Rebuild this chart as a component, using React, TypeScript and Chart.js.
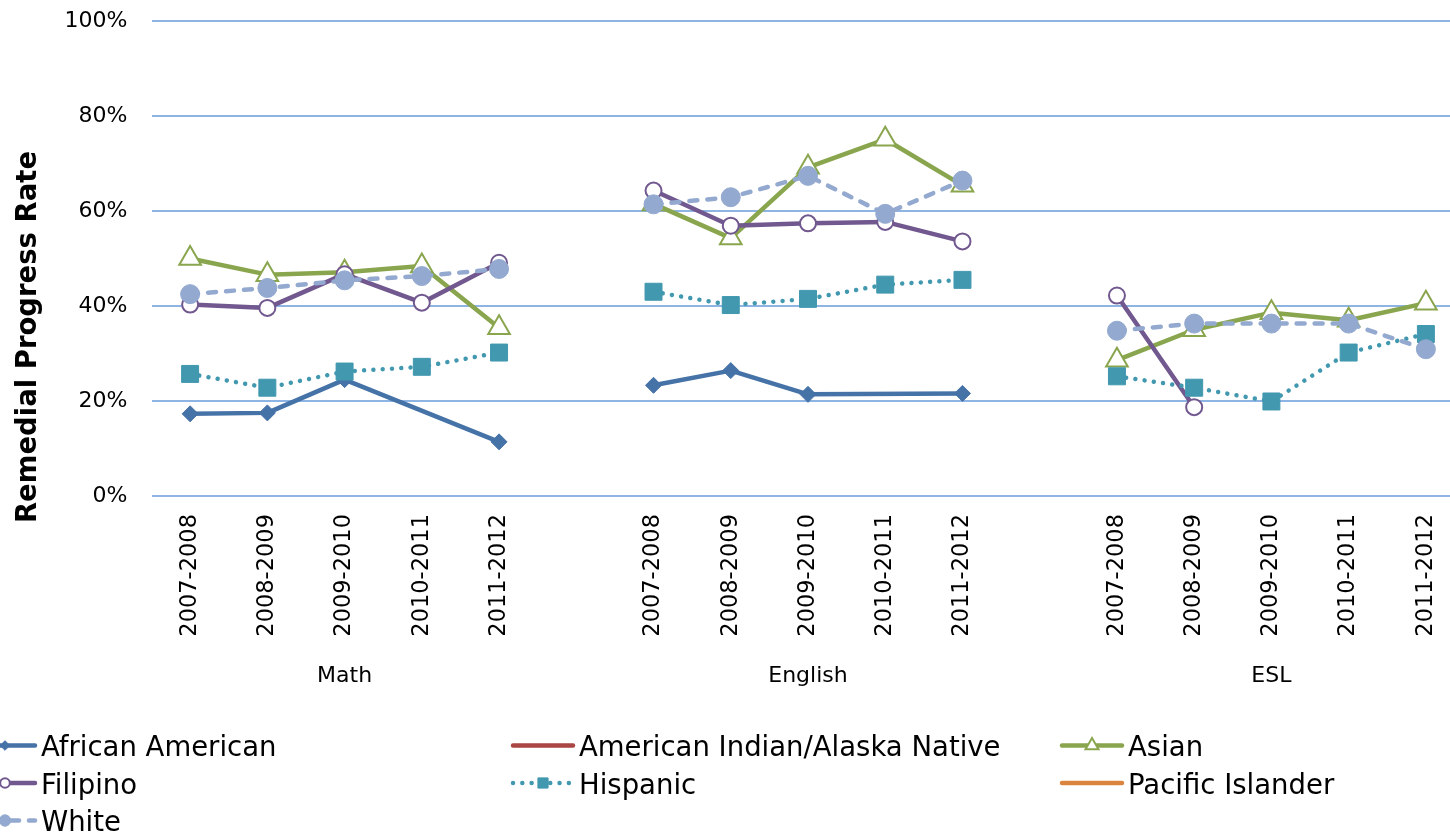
import React, { useEffect, useRef } from "react";
import { Chart, registerables } from "chart.js";

Chart.register(...registerables);

const FONT = '"DejaVu Sans", Verdana, sans-serif';

// ---- data ----
const years = ["2007-2008", "2008-2009", "2009-2010", "2010-2011", "2011-2012"];
const categories = [...years, "", ...years, "", ...years];
const groupLabels = ["Math", "English", "ESL"];
const groupCenterIndex = [2, 8, 14];
const yTickStep = 20;
const yAxisTitle = "Remedial Progress Rate";

const africanAmerican = [17.3, 17.5, 24.5, null, 11.4, null, 23.3, 26.4, 21.4, null, 21.6, null, null, null, null, null, null];
const americanIndian = [null, null, null, null, null, null, null, null, null, null, null, null, null, null, null, null, null];
const asian = [50.0, 46.6, 47.1, 48.4, 35.4, null, 61.5, 54.3, 69.2, 75.1, 65.4, null, 28.6, 35.0, 38.6, 37.0, 40.6];
const filipino = [40.3, 39.6, 46.7, 40.7, 49.1, null, 64.3, 56.9, 57.4, 57.7, 53.6, null, 42.2, 18.7, null, null, null];
const hispanic = [25.7, 22.8, 26.2, 27.2, 30.2, null, 43.0, 40.2, 41.5, 44.5, 45.5, null, 25.2, 22.8, 19.9, 30.2, 34.1];
const pacificIslander = [null, null, null, null, null, null, null, null, null, null, null, null, null, null, null, null, null];
const white = [42.5, 43.8, 45.4, 46.3, 47.8, null, 61.4, 62.9, 67.4, 59.4, 66.4, null, 34.8, 36.3, 36.3, 36.3, 30.9];

const seriesNames = [
  "African American",
  "American Indian/Alaska Native",
  "Asian",
  "Filipino",
  "Hispanic",
  "Pacific Islander",
  "White",
];
const seriesValues = [africanAmerican, americanIndian, asian, filipino, hispanic, pacificIslander, white];

// ---- styles ----
type Style = {
  color: string;
  shape: string | false;
  radius: number;
  fill: string;
  pbw: number;
  dash: number[];
  cap: CanvasLineCap;
};
const styles: Style[] = [
  { color: "#4572A7", shape: "rectRot", radius: 8, fill: "#4572A7", pbw: 1, dash: [], cap: "round" },
  { color: "#AA4643", shape: false, radius: 0, fill: "#AA4643", pbw: 1, dash: [], cap: "round" },
  { color: "#89A54E", shape: "triangle", radius: 12.5, fill: "#FFFFFF", pbw: 2, dash: [], cap: "round" },
  { color: "#71588F", shape: "circle", radius: 8, fill: "#FFFFFF", pbw: 2, dash: [], cap: "round" },
  { color: "#4198AF", shape: "rect", radius: 12, fill: "#4198AF", pbw: 1, dash: [0.01, 9.3], cap: "round" },
  { color: "#DB843D", shape: false, radius: 0, fill: "#DB843D", pbw: 1, dash: [], cap: "round" },
  { color: "#93A9CF", shape: "circle", radius: 9.5, fill: "#93A9CF", pbw: 1, dash: [8, 10], cap: "round" },
];

// legend layout (column text x, row baselines)
const legendCols = [41, 579, 1128];
const legendRows = [756, 793.5, 831];

const groupOf = (i: number) => Math.floor(i / 6);

function drawMarker(ctx: CanvasRenderingContext2D, st: Style, x: number, y: number, scale: number) {
  if (!st.shape) return;
  const r = st.radius * scale;
  ctx.save();
  ctx.setLineDash([]);
  ctx.lineWidth = st.pbw;
  ctx.strokeStyle = st.color;
  ctx.fillStyle = st.fill;
  ctx.beginPath();
  if (st.shape === "rectRot") {
    ctx.moveTo(x - r, y);
    ctx.lineTo(x, y - r);
    ctx.lineTo(x + r, y);
    ctx.lineTo(x, y + r);
    ctx.closePath();
  } else if (st.shape === "triangle") {
    for (let k = 0; k < 3; k++) {
      const a = (k * 2 * Math.PI) / 3;
      const px = x + Math.sin(a) * r;
      const py = y - Math.cos(a) * r;
      if (k === 0) ctx.moveTo(px, py);
      else ctx.lineTo(px, py);
    }
    ctx.closePath();
  } else if (st.shape === "circle") {
    ctx.arc(x, y, r, 0, Math.PI * 2);
  } else if (st.shape === "rect") {
    const s = r * Math.SQRT1_2;
    ctx.rect(x - s, y - s, 2 * s, 2 * s);
  }
  ctx.fill();
  ctx.stroke();
  ctx.restore();
}

const extrasPlugin = {
  id: "extras",
  afterDraw(chart: any) {
    const ctx: CanvasRenderingContext2D = chart.ctx;
    const xScale = chart.scales.x;
    ctx.save();
    // group labels
    ctx.fillStyle = "#000";
    ctx.font = `22px ${FONT}`;
    ctx.textAlign = "center";
    ctx.textBaseline = "alphabetic";
    groupLabels.forEach((g, i) => {
      ctx.fillText(g, xScale.getPixelForTick(groupCenterIndex[i]), 682);
    });
    // y title
    ctx.save();
    ctx.translate(36, 337);
    ctx.rotate(-Math.PI / 2);
    ctx.font = `bold 27.5px ${FONT}`;
    ctx.textAlign = "center";
    ctx.fillText(yAxisTitle, 0, 0);
    ctx.restore();
    // legend
    ctx.font = `27.5px ${FONT}`;
    ctx.textAlign = "left";
    seriesNames.forEach((name, i) => {
      const col = i % 3;
      const row = Math.floor(i / 3);
      const tx = legendCols[col];
      const base = legendRows[row];
      const my = base - 10.5;
      const st = styles[i];
      ctx.save();
      ctx.strokeStyle = st.color;
      ctx.lineWidth = 4.5;
      ctx.lineCap = st.cap;
      ctx.setLineDash(st.dash);
      ctx.beginPath();
      ctx.moveTo(tx - 66, my);
      ctx.lineTo(tx - 6, my);
      ctx.stroke();
      ctx.restore();
      drawMarker(ctx, st, tx - 36, my, 0.6);
      ctx.fillStyle = "#000";
      ctx.fillText(name, tx, base);
    });
    ctx.restore();
  },
};

export default function App() {
  const ref = useRef<HTMLCanvasElement>(null);
  useEffect(() => {
    const datasets = seriesNames.map((name, i) => {
      const st = styles[i];
      return {
        label: name,
        data: seriesValues[i],
        borderColor: st.color,
        backgroundColor: st.color,
        borderWidth: 4.5,
        borderDash: st.dash,
        borderCapStyle: st.cap,
        borderJoinStyle: "round" as CanvasLineJoin,
        pointStyle: st.shape,
        pointRadius: st.shape ? st.radius : 0,
        pointHoverRadius: st.shape ? st.radius : 0,
        pointBackgroundColor: st.fill,
        pointBorderColor: st.color,
        pointBorderWidth: st.pbw,
        spanGaps: true,
        tension: 0,
        fill: false,
        order: seriesNames.length - 1 - i,
        segment: {
          borderColor: (c: any) =>
            groupOf(c.p0DataIndex) !== groupOf(c.p1DataIndex) ? "rgba(0,0,0,0)" : undefined,
        },
      };
    });
    const chart = new Chart(ref.current!, {
      type: "line",
      data: { labels: categories, datasets: datasets as any },
      options: {
        responsive: false,
        maintainAspectRatio: false,
        animation: false,
        devicePixelRatio: 1,
        layout: { padding: { left: 0, right: 7.4, top: 21, bottom: 0 } },
        plugins: {
          legend: { display: false },
          tooltip: { enabled: false },
          title: { display: false },
        },
        scales: {
          x: {
            type: "category",
            offset: true,
            grid: { display: false, drawTicks: false },
            border: { display: false },
            ticks: {
              autoSkip: false,
              maxRotation: 90,
              minRotation: 90,
              padding: 18,
              color: "#000",
              font: { family: FONT, size: 22.5 },
            },
            afterFit: (s: any) => {
              s.height = 341;
              s.paddingLeft = 0;
              s.paddingRight = 0;
            },
          },
          y: {
            min: 0,
            max: 100,
            grid: { color: "#8EB4E3", lineWidth: 2, drawTicks: false },
            border: { display: false },
            ticks: {
              stepSize: yTickStep,
              padding: 24,
              color: "#000",
              font: { family: FONT, size: 22 },
              callback: (v: any) => `${v}%`,
            },
            afterFit: (s: any) => {
              s.width = 151.5;
              s.paddingTop = 0;
              s.paddingBottom = 0;
            },
          },
        },
      },
      plugins: [extrasPlugin],
    });
    return () => chart.destroy();
  }, []);
  return (
    <div
      style={{
        position: "fixed",
        left: 0,
        top: 0,
        width: 1450,
        height: 837,
        overflow: "hidden",
        background: "#fff",
      }}
    >
      <canvas ref={ref} width={1479} height={837} style={{ display: "block", width: 1479, height: 837 }} />
    </div>
  );
}
